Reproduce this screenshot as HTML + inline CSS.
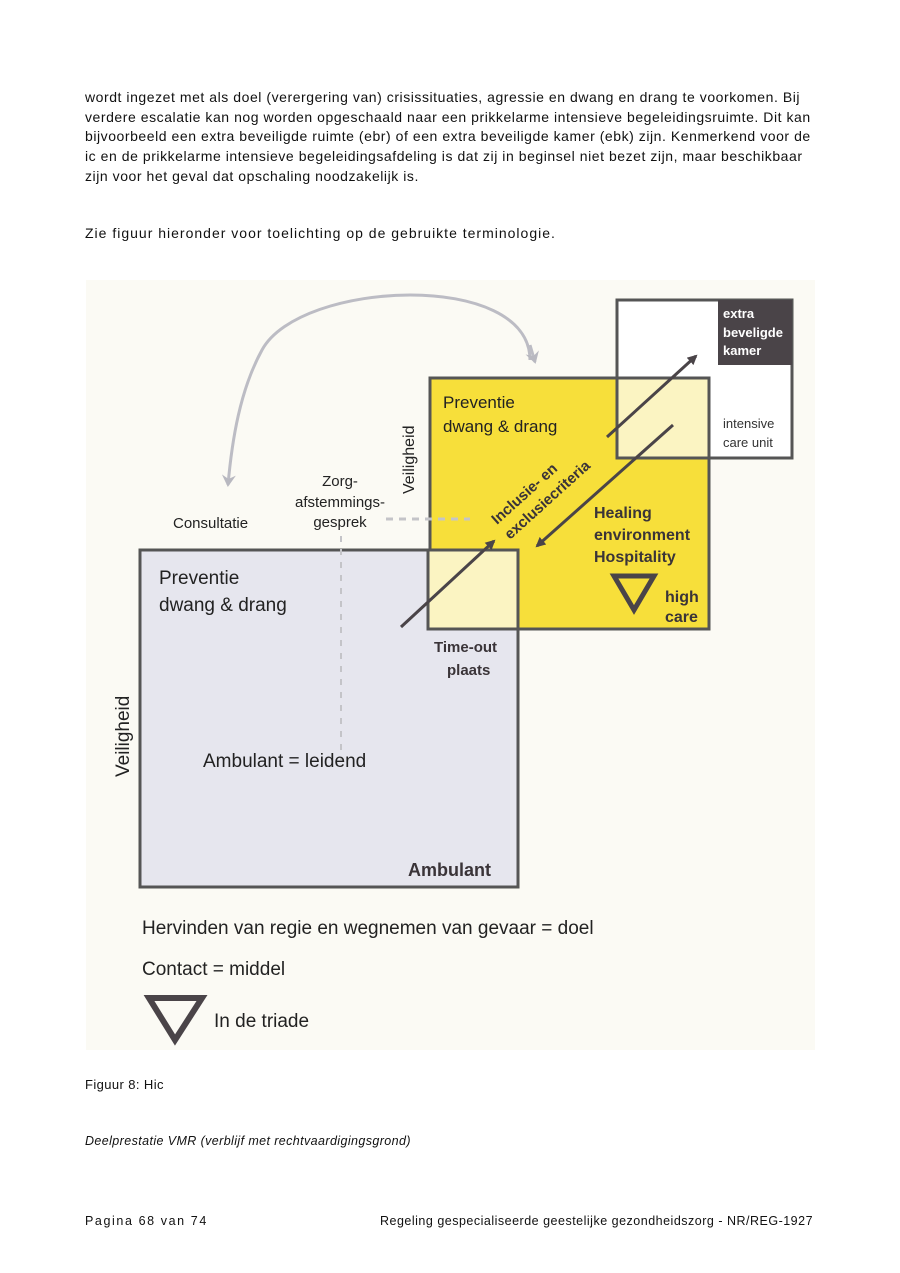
<!DOCTYPE html>
<html><head><meta charset="utf-8"><style>
body{margin:0;width:900px;height:1273px;background:#fff;position:relative;font-family:"Liberation Sans",sans-serif;overflow:hidden}
.t{position:absolute;left:85px;font-size:13px;color:#111;line-height:19.7px;letter-spacing:0.4px;white-space:nowrap}
.p{font-size:14px;letter-spacing:0.55px}
</style></head><body>
<div class="t p" style="top:88px">wordt ingezet met als doel (verergering van) crisissituaties, agressie en dwang en drang te voorkomen. Bij<br>verdere escalatie kan nog worden opgeschaald naar een prikkelarme intensieve begeleidingsruimte. Dit kan<br>bijvoorbeeld een extra beveiligde ruimte (ebr) of een extra beveiligde kamer (ebk) zijn. Kenmerkend voor de<br>ic en de prikkelarme intensieve begeleidingsafdeling is dat zij in beginsel niet bezet zijn, maar beschikbaar<br>zijn voor het geval dat opschaling noodzakelijk is.</div>
<div class="t p" style="top:224px;letter-spacing:1px">Zie figuur hieronder voor toelichting op de gebruikte terminologie.</div>
<svg style="position:absolute;left:0;top:0" width="900" height="1273" font-family="Liberation Sans, sans-serif">
<defs>
<marker id="ah" markerWidth="10" markerHeight="10" refX="8" refY="5" orient="auto" markerUnits="userSpaceOnUse"><path d="M0,0 L10,5 L0,10 z" fill="#4a4448"/></marker>
<marker id="ag" markerWidth="14" markerHeight="14" refX="10" refY="7" orient="auto" markerUnits="userSpaceOnUse"><path d="M0,0 L12,7 L0,14 L4,7 z" fill="#b8b8c0"/></marker>
</defs>
<rect x="86" y="280" width="729" height="770" fill="#fbfaf4"/>
<path d="M530,360 C530,270 300,280 262,350 C240,390 232,440 228,485" fill="none" stroke="#bcbcc4" stroke-width="3" marker-end="url(#ag)"/>
<path d="M530,345 L535,362" fill="none" stroke="#bcbcc4" stroke-width="3" marker-end="url(#ag)"/>
<rect x="140" y="550" width="378" height="337" fill="#e6e6ee" stroke="#555" stroke-width="3"/>
<rect x="430" y="378" width="279" height="251" fill="#f7df3a" stroke="#555" stroke-width="3"/>
<rect x="617" y="300" width="175" height="158" fill="#fff" stroke="#555" stroke-width="3"/>
<rect x="617" y="378" width="92" height="80" fill="#fbf4c2" stroke="#555" stroke-width="3"/>
<rect x="718" y="300" width="74" height="65" fill="#4a4448"/>
<rect x="428" y="550" width="90" height="79" fill="#fbf4c2" stroke="#555" stroke-width="3"/>
<line x1="386" y1="519" x2="470" y2="519" stroke="#c4c4c8" stroke-width="3" stroke-dasharray="7,6"/>
<line x1="341" y1="536" x2="341" y2="760" stroke="#c4c4c8" stroke-width="2" stroke-dasharray="6,7"/>
<line x1="401" y1="627" x2="494" y2="541" stroke="#4a4448" stroke-width="3" marker-end="url(#ah)"/>
<line x1="607" y1="437" x2="696" y2="356" stroke="#4a4448" stroke-width="3" marker-end="url(#ah)"/>
<line x1="673" y1="425" x2="537" y2="546" stroke="#4a4448" stroke-width="3" marker-end="url(#ah)"/>
<polygon points="614,576 654,576 634,610" fill="none" stroke="#4a4448" stroke-width="5"/>
<polygon points="149,998 202,998 175,1040" fill="none" stroke="#4a4448" stroke-width="6"/>
<g fill="#222" font-size="17">
<text x="443" y="408">Preventie</text><text x="443" y="432">dwang &amp; drang</text>
<text x="159" y="584" font-size="19">Preventie</text><text x="159" y="611" font-size="19">dwang &amp; drang</text>
<text x="203" y="767" font-size="19">Ambulant = leidend</text>
<text x="173" y="528" font-size="15">Consultatie</text>
<text x="340" y="486" font-size="15" text-anchor="middle">Zorg-</text>
<text x="340" y="507" font-size="15" text-anchor="middle">afstemmings-</text>
<text x="340" y="527" font-size="15" text-anchor="middle">gesprek</text>
<text transform="translate(414,494) rotate(-90)" font-size="16">Veiligheid</text>
<text transform="translate(129,777) rotate(-90)" font-size="19">Veiligheid</text>
<text x="142" y="934" font-size="19">Hervinden van regie en wegnemen van gevaar = doel</text>
<text x="142" y="975" font-size="19">Contact = middel</text>
<text x="214" y="1027" font-size="19">In de triade</text>
</g>
<g fill="#3a3438" font-weight="bold">
<text x="594" y="518" font-size="16">Healing</text>
<text x="594" y="540" font-size="16">environment</text>
<text x="594" y="562" font-size="16">Hospitality</text>
<text x="665" y="602" font-size="16">high</text><text x="665" y="622" font-size="16">care</text>
<text x="434" y="652" font-size="15">Time-out</text><text x="447" y="675" font-size="15">plaats</text>
<text x="408" y="876" font-size="18">Ambulant</text>
<text transform="translate(497,525) rotate(-42)" font-size="15">Inclusie- en</text>
<text transform="translate(510,540) rotate(-42)" font-size="15">exclusiecriteria</text>
<text x="723" y="318" font-size="13" fill="#fff">extra</text>
<text x="723" y="337" font-size="13" fill="#fff">beveligde</text>
<text x="723" y="355" font-size="13" fill="#fff">kamer</text>
</g>
<g fill="#333" font-size="13"><text x="723" y="428">intensive</text><text x="723" y="447">care unit</text></g>
</svg>
<div class="t" style="top:1075px">Figuur 8: Hic</div>
<div class="t" style="top:1132px;font-style:italic;font-size:12.5px">Deelprestatie VMR (verblijf met rechtvaardigingsgrond)</div>
<div class="t" style="top:1212px;font-size:12.5px;letter-spacing:1.6px">Pagina 68 van 74</div>
<div class="t" style="top:1212px;left:380px;font-size:12.5px;letter-spacing:0.5px">Regeling gespecialiseerde geestelijke gezondheidszorg - NR/REG-1927</div>
</body></html>
